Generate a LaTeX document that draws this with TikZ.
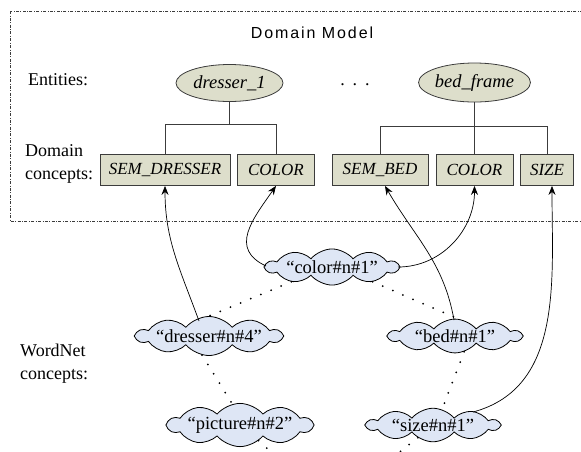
\documentclass[tikz,border=0pt]{standalone}
\usepackage{fontspec}
\setmainfont{Liberation Serif}
\newfontfamily\titlefont[LetterSpace=12]{Liberation Sans}
\usetikzlibrary{shapes.geometric,shapes.symbols,arrows.meta}
\definecolor{entfill}{RGB}{221,222,203}
\definecolor{wnfill}{RGB}{222,230,245}
\definecolor{framegray}{RGB}{60,60,60}

\begin{document}
\begin{tikzpicture}[x=1pt,y=-1pt,
    entity/.style={ellipse,draw=framegray,fill=entfill,line width=0.8pt,inner sep=0pt,
      font=\fontsize{18.5}{20}\selectfont\itshape},
    domconcept/.style={rectangle,draw=framegray,fill=entfill,line width=0.8pt,
      minimum height=31pt,inner sep=0pt,font=\fontsize{17}{19}\selectfont\itshape},
    synset/.style={cloud,cloud puffs=10,cloud puff arc=100,cloud ignores aspect,
      draw=black,fill=wnfill,line width=0.8pt,minimum width=132pt,minimum height=29pt,
      inner sep=0pt,font=\fontsize{18.5}{20}\selectfont},
    rowlabel/.style={align=left,inner sep=0pt,anchor=west,font=\fontsize{18}{23}\selectfont},
    link/.style={-{Stealth[length=9pt,width=7pt]},line width=0.7pt},
    related/.style={line width=2pt,line cap=round,dash pattern=on 0pt off 11pt},
    treeline/.style={draw=framegray,line width=0.8pt},
    modelframe/.style={draw=framegray,line width=0.6pt,dash pattern=on 3pt off 1.5pt on 0.8pt off 1.5pt}]
  \clip (0,0) rectangle (581,451);
  \draw[modelframe] (10,11) rectangle (600,221);
  \node[font=\titlefont\fontsize{16}{18}\selectfont] (title) at (312,33) {Domain Model};
  % row labels
  \node[rowlabel] (entlbl) at (28,80) {Entities:};
  \node[rowlabel] (domlbl) at (25,164) {Domain\\concepts:};
  \node[rowlabel] (wnlbl) at (20,364) {WordNet\\concepts:};
  % entities and their concepts
  \node[entity,minimum width=107pt,minimum height=37pt] (dresser) at (229.5,83) {dresser\_1};
  \node[entity,minimum width=109pt,minimum height=39pt] (bedframe) at (474.5,82.5) {bed\_frame};
  \node[font=\fontsize{18}{20}\selectfont] (more) at (355,85) {.\hspace{8pt}.\hspace{8pt}.};
  \node[domconcept,minimum width=130pt] (semdresser) at (165,170) {SEM\_DRESSER};
  \node[domconcept,minimum width=77pt] (colora) at (276,170) {COLOR};
  \node[domconcept,minimum width=96pt] (sembed) at (380,170) {SEM\_BED};
  \node[domconcept,minimum width=77pt] (colorb) at (474.5,170) {COLOR};
  \node[domconcept,minimum width=53pt] (size) at (547,170) {SIZE};
  % WordNet synsets
  \node[synset] (wncolor) at (332,267) {``color\#n\#1''};
  \node[synset] (wndresser) at (209,336) {``dresser\#n\#4''};
  \node[synset] (wnbed) at (455,336) {``bed\#n\#1''};
  \node[synset] (wnpicture) at (240,425) {``picture\#n\#2''};
  \node[synset] (wnsize) at (433,425) {``size\#n\#1''};
  \coordinate (picturenext) at (302,480);
  \coordinate (sizenext) at (364,480);
  \begin{scope}[treeline]
    \draw (dresser.south) -- ++(0,22) -| (semdresser.north);
    \draw (dresser.south) -- ++(0,22) -| (colora.north);
    \draw (bedframe.south) -- (colorb.north);
    \draw (bedframe.south) -- ++(0,24) -| (sembed.north);
    \draw (bedframe.south) -- ++(0,24) -| (size.north);
  \end{scope}
  \begin{scope}[link]
    \draw ([shift={(-10,-15)}]wndresser.center) to[out=110,in=-90] (semdresser.south);
    \draw (wncolor.center) ++(-66,-1) to[out=155,in=-125,looseness=1.3] (colora.south);
    \draw (wncolor.center) ++(66,0) to[out=0,in=-90] (colorb.south);
    \draw ([shift={(-1,-16)}]wnbed.center) to[out=100,in=-60] ([xshift=5pt]sembed.south);
    \draw (wnsize.center) ++(40,-13) to[out=15,in=-90] ([xshift=5pt]size.south);
  \end{scope}
  \begin{scope}[related]
    \draw (wncolor.200) -- (wndresser.north);
    \draw (wncolor.-20) -- (wnbed.80);
    \draw (wndresser.-110) -- (wnpicture.110);
    \draw (wnbed.-60) -- (wnsize.60);
    \draw (wnpicture.-40) -- (picturenext);
    \draw (wnsize.-140) -- (sizenext);
  \end{scope}
\end{tikzpicture}
\end{document}
